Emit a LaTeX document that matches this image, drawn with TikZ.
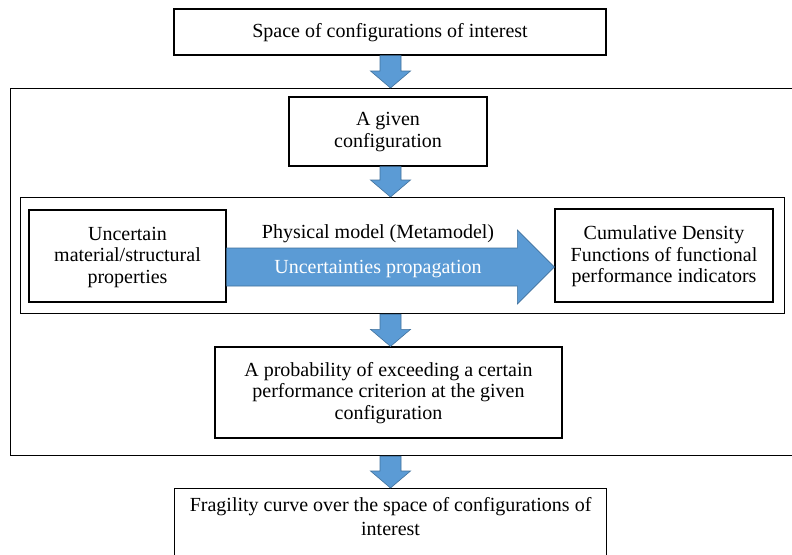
\documentclass[tikz,border=0pt]{standalone}
\usepackage{fontspec}
\setmainfont{Liberation Serif}
\usetikzlibrary{calc}
\definecolor{arrfill}{HTML}{5B9BD5}
\definecolor{arrline}{HTML}{41719C}
\newcommand\blockdown[2]{%
  \filldraw[fill=arrfill,draw=arrline,line width=0.6pt]
    ($(#1)+(-10.5,0)$) -- ($(#2)+(-10.5,-17)$) -- ($(#2)+(-20,-17)$) -- (#2)
    -- ($(#2)+(20,-17)$) -- ($(#2)+(10.5,-17)$) -- ($(#1)+(10.5,0)$) -- cycle;}
\begin{document}
\begin{tikzpicture}[x=1pt,y=-1pt,
  box/.style={draw=black,line width=1.2pt,inner sep=0pt,align=center,
    font=\fontsize{20}{21.5}\selectfont},
  txt/.style={inner sep=0pt,align=center,font=\fontsize{20}{21.5}\selectfont}]
\useasboundingbox[fill=white] (0,0) rectangle (792,554);
\clip (0,0) rectangle (792,554);
% frames
\node[box,anchor=north west,minimum width=800pt,minimum height=367pt] (outer) at (10,88) {};
\node[box,anchor=north west,minimum width=764pt,minimum height=116pt] (inner) at (20,197) {};
% boxes
\node[box,minimum width=432pt,minimum height=46pt,text depth=3pt] (top) at (390,32) {Space of configurations of interest};
\node[box,minimum width=198pt,minimum height=69pt,text depth=3pt] (given) at (388,131.5) {A given\\configuration};
\node[box,minimum width=197pt,minimum height=92pt,text depth=2pt] (unc) at (127.5,256) {Uncertain\\material/structural\\properties};
\node[box,minimum width=218pt,minimum height=93pt,text depth=2pt] (cdf) at (664,255.5) {Cumulative Density\\Functions of functional\\performance indicators};
\node[box,minimum width=347pt,minimum height=91pt,text depth=4pt] (prob) at (388.5,392.5) {A probability of exceeding a certain\\performance criterion at the given\\configuration};
\node[box,anchor=north west,minimum width=432pt,minimum height=100pt] (frag) at (174,488) {};
\node[txt,anchor=north,font=\fontsize{20}{24.5}\selectfont] (fragtext) at ($(frag.north)+(0,9)$) {Fragility curve over the space of configurations of\\interest};
% down arrows
\coordinate (ax) at (390.5,0);
\coordinate (a1s) at (ax |- top.south);   \coordinate (a1e) at (ax |- outer.north);
\coordinate (a2s) at (ax |- given.south); \coordinate (a2e) at (ax |- inner.north);
\coordinate (a3s) at (ax |- inner.south); \coordinate (a3e) at (ax |- prob.north);
\coordinate (a4s) at (ax |- outer.south); \coordinate (a4e) at (ax |- frag.north);
\blockdown{a1s}{a1e}
\blockdown{a2s}{a2e}
\blockdown{a3s}{a3e}
\blockdown{a4s}{a4e}
% big arrow
\coordinate (by) at (0,267);
\coordinate (bs) at (unc.east |- by);
\coordinate (be) at (cdf.west |- by);
\filldraw[fill=arrfill,draw=arrline,line width=0.6pt]
  ($(bs)+(0,-19)$) -- ($(be)+(-37,-19)$) -- ($(be)+(-37,-37)$) -- (be)
  -- ($(be)+(-37,37)$) -- ($(be)+(-37,19)$) -- ($(bs)+(0,19)$) -- cycle;
\node[txt] (phys) at (378,234) {Physical model (Metamodel)};
\node[txt,text=white] (prop) at (378,269) {Uncertainties propagation};
\end{tikzpicture}
\end{document}
